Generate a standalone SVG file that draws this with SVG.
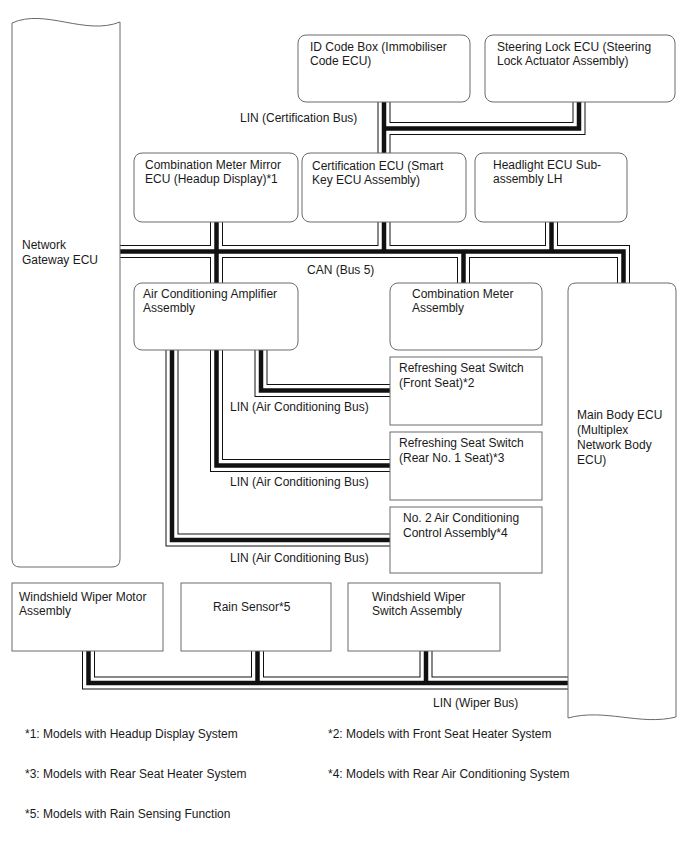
<svg xmlns="http://www.w3.org/2000/svg" width="688" height="852" viewBox="0 0 688 852">
<style>
text{font-family:"Liberation Sans",Arial,sans-serif;font-size:12px;fill:#1a1a1a}
.box{fill:#fff;stroke:#6a6a6a;stroke-width:1}
.b1{fill:none;stroke:#111;stroke-width:13;stroke-linejoin:miter;stroke-linecap:butt}
.b2{fill:none;stroke:#fff;stroke-width:11;stroke-linejoin:miter;stroke-linecap:butt}
.b3{fill:none;stroke:#111;stroke-width:4.5;stroke-linejoin:miter;stroke-linecap:butt}
</style>
<defs>
<g id="bus-cert"><path d="M384,102V153"/><path d="M579,102V128.5H384"/></g>
<g id="bus-can"><path d="M120,251.5H623.5V283"/><path d="M216.5,222V283"/><path d="M384,222V251.5"/><path d="M463.5,251.5V283"/><path d="M551.5,222V251.5"/></g>
<g id="bus-ac1"><path d="M261,350V390.5H390"/></g>
<g id="bus-ac2"><path d="M216.5,350V465.5H390"/></g>
<g id="bus-ac3"><path d="M172,350V540H390"/></g>
<g id="bus-wiper"><path d="M88.5,651V683H568"/><path d="M257.5,651V683"/><path d="M426,651V683"/></g>
</defs>
<g id="connectors">
<g id="certification-bus"><use href="#bus-cert" class="b1"/><use href="#bus-cert" class="b2"/><use href="#bus-cert" class="b3"/></g>
<g id="can-bus"><use href="#bus-can" class="b1"/><use href="#bus-can" class="b2"/><use href="#bus-can" class="b3"/></g>
<g id="ac-bus-1"><use href="#bus-ac1" class="b1"/><use href="#bus-ac1" class="b2"/><use href="#bus-ac1" class="b3"/></g>
<g id="ac-bus-2"><use href="#bus-ac2" class="b1"/><use href="#bus-ac2" class="b2"/><use href="#bus-ac2" class="b3"/></g>
<g id="ac-bus-3"><use href="#bus-ac3" class="b1"/><use href="#bus-ac3" class="b2"/><use href="#bus-ac3" class="b3"/></g>
<g id="wiper-bus"><use href="#bus-wiper" class="b1"/><use href="#bus-wiper" class="b2"/><use href="#bus-wiper" class="b3"/></g>
<text x="240" y="122">LIN (Certification Bus)</text>
<text x="307" y="274">CAN (Bus 5)</text>
<text x="230" y="411">LIN (Air Conditioning Bus)</text>
<text x="230" y="486">LIN (Air Conditioning Bus)</text>
<text x="230" y="562">LIN (Air Conditioning Bus)</text>
<text x="433" y="707">LIN (Wiper Bus)</text>
</g>
<g id="network-gateway-ecu">
<path class="box" d="M12,23C45,8 85,36 120,22V559Q120,567 112,567H20Q12,567 12,559Z"/>
<text x="22" y="249">Network</text><text x="22" y="264">Gateway ECU</text>
</g>
<g id="main-body-ecu">
<path class="box" d="M576,283H668Q676,283 676,291V717C640,726 605,708 568,718V291Q568,283 576,283Z"/>
<text x="577" y="419">Main Body ECU</text><text x="577" y="434">(Multiplex</text><text x="577" y="449">Network Body</text><text x="577" y="464">ECU)</text>
</g>
<g id="id-code-box">
<rect class="box" x="298" y="35" width="172" height="67" rx="8"/>
<text x="310" y="51">ID Code Box (Immobiliser</text><text x="310" y="65">Code ECU)</text>
</g>
<g id="steering-lock-ecu">
<rect class="box" x="485" y="35" width="190" height="67" rx="8"/>
<text x="497" y="51">Steering Lock ECU (Steering</text><text x="497" y="65">Lock Actuator Assembly)</text>
</g>
<g id="combination-meter-mirror-ecu">
<rect class="box" x="134" y="153" width="164" height="69" rx="8"/>
<text x="145" y="169">Combination Meter Mirror</text><text x="145" y="183">ECU (Headup Display)*1</text>
</g>
<g id="certification-ecu">
<rect class="box" x="302" y="153" width="164" height="69" rx="8"/>
<text x="312" y="170">Certification ECU (Smart</text><text x="312" y="184">Key ECU Assembly)</text>
</g>
<g id="headlight-ecu">
<rect class="box" x="475" y="153" width="152" height="69" rx="8"/>
<text x="493" y="169">Headlight ECU Sub-</text><text x="493" y="183">assembly LH</text>
</g>
<g id="air-conditioning-amplifier">
<rect class="box" x="134" y="283" width="164" height="67" rx="8"/>
<text x="143" y="298">Air Conditioning Amplifier</text><text x="143" y="312">Assembly</text>
</g>
<g id="combination-meter">
<rect class="box" x="390" y="283" width="152" height="67" rx="8"/>
<text x="412" y="298">Combination Meter</text><text x="412" y="312">Assembly</text>
</g>
<g id="refreshing-seat-switch-front">
<rect class="box" x="390" y="357" width="152" height="68"/>
<text x="399" y="372">Refreshing Seat Switch</text><text x="399" y="387">(Front Seat)*2</text>
</g>
<g id="refreshing-seat-switch-rear">
<rect class="box" x="390" y="432" width="152" height="68"/>
<text x="399" y="447">Refreshing Seat Switch</text><text x="399" y="462">(Rear No. 1 Seat)*3</text>
</g>
<g id="no2-air-conditioning-control">
<rect class="box" x="390" y="507" width="152" height="66"/>
<text x="403" y="522">No. 2 Air Conditioning</text><text x="403" y="537">Control Assembly*4</text>
</g>
<g id="windshield-wiper-motor">
<rect class="box" x="12" y="583" width="151" height="68"/>
<text x="19" y="601">Windshield Wiper Motor</text><text x="19" y="615">Assembly</text>
</g>
<g id="rain-sensor">
<rect class="box" x="181" y="583" width="150" height="68"/>
<text x="213" y="611">Rain Sensor*5</text>
</g>
<g id="windshield-wiper-switch">
<rect class="box" x="348" y="583" width="152" height="68"/>
<text x="372" y="601">Windshield Wiper</text><text x="372" y="615">Switch Assembly</text>
</g>
<g id="footnotes">
<text x="25" y="738">*1: Models with Headup Display System</text>
<text x="328" y="738">*2: Models with Front Seat Heater System</text>
<text x="25" y="778">*3: Models with Rear Seat Heater System</text>
<text x="328" y="778">*4: Models with Rear Air Conditioning System</text>
<text x="25" y="818">*5: Models with Rain Sensing Function</text>
</g>
</svg>
